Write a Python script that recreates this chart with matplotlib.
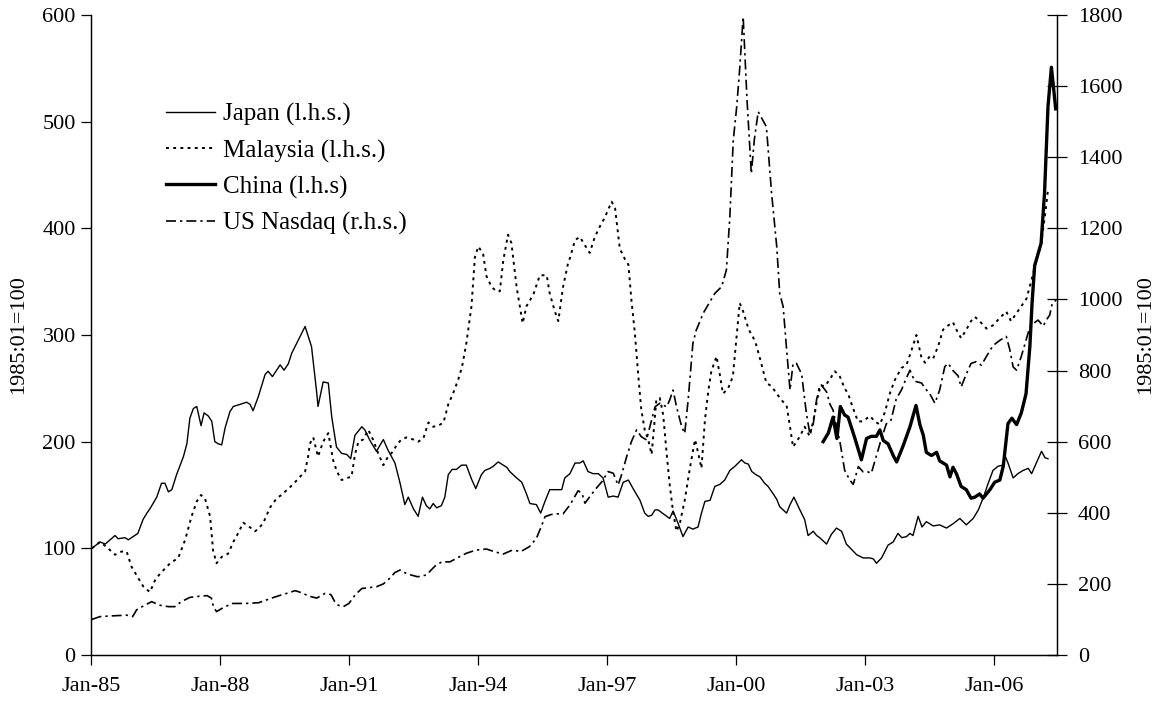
import matplotlib
matplotlib.use("Agg")
import matplotlib.pyplot as plt

# ---------------- data (decimal year, index 1985:01=100) ----------------
japan_t = [1985.02,1985.21,1985.33,1985.56,1985.63,1985.79,1985.87,1985.98,1986.09,1986.21,1986.30,1986.37,1986.53,1986.64,1986.72,1986.80,1986.88,1986.99,
           1987.15,1987.23,1987.30,1987.38,1987.46,1987.56,1987.63,1987.73,1987.81,1987.88,1987.96,1988.04,1988.12,1988.23,1988.31,1988.47,1988.62,1988.70,
           1988.77,1988.89,1989.05,1989.12,1989.22,1989.40,1989.49,1989.59,1989.67,1989.82,1989.98,1990.13,1990.25,1990.28,1990.40,1990.52,1990.60,1990.71,
           1990.83,1990.95,1991.04,1991.14,1991.30,1991.37,1991.49,1991.64,1991.80,1991.91,1992.07,1992.19,1992.30,1992.38,1992.50,1992.61,1992.71,1992.80,
           1992.88,1992.96,1993.04,1993.15,1993.23,1993.31,1993.40,1993.50,1993.62,1993.73,1993.85,1993.95,1994.08,1994.16,1994.28,1994.36,1994.47,1994.59,
           1994.67,1994.74,1994.82,1994.90,1995.02,1995.13,1995.21,1995.36,1995.46,1995.56,1995.67,1995.87,1995.95,1996.02,1996.14,1996.26,1996.37,1996.45,
           1996.56,1996.68,1996.80,1996.91,1997.03,1997.15,1997.26,1997.38,1997.50,1997.61,1997.77,1997.88,1997.96,1998.04,1998.12,1998.19,1998.29,1998.39,
           1998.46,1998.54,1998.66,1998.77,1998.89,1999.00,1999.12,1999.20,1999.28,1999.40,1999.51,1999.63,1999.74,1999.86,1999.98,2000.13,2000.21,2000.29,
           2000.37,2000.47,2000.56,2000.67,2000.75,2000.87,2000.95,2001.02,2001.18,2001.26,2001.35,2001.49,2001.60,2001.68,2001.80,2001.88,2001.95,2002.11,
           2002.22,2002.34,2002.46,2002.57,2002.69,2002.81,2002.96,2003.12,2003.20,2003.27,2003.39,2003.54,2003.66,2003.77,2003.86,2003.97,2004.05,2004.12,
           2004.24,2004.33,2004.43,2004.59,2004.74,2004.90,2005.05,2005.21,2005.36,2005.52,2005.64,2005.75,2005.87,2005.98,2006.10,2006.22,2006.26,2006.33,
           2006.45,2006.56,2006.68,2006.80,2006.88,2006.99,2007.11,2007.19,2007.26]
japan_v = [100,106,104,112,109,110,108,111,114,127,133,137,148,161,161,153,155,169,
           186,198,222,231,233,215,227,224,219,200,198,197,213,228,233,235,237,235,
           229,242,263,266,261,272,267,273,283,295,308,289,246,233,256,255,223,195,
           189,188,184,206,214,211,201,191,202,192,180,161,141,148,137,130,148,140,
           137,142,138,140,148,169,174,174,178,178,165,156,169,173,175,177,181,178,
           176,172,169,166,162,151,142,141,133,144,155,155,155,166,170,180,180,182,
           172,170,170,166,148,149,148,162,164,156,145,133,130,131,136,136,133,130,
           128,135,123,111,120,118,120,133,144,145,158,160,164,173,177,183,180,179,
           172,169,167,161,158,151,146,139,133,141,148,136,127,112,116,112,110,104,
           113,119,116,104,99,94,91,91,90,86,91,103,106,114,110,111,114,112,
           130,120,125,121,122,119,123,128,122,128,136,147,161,173,177,178,187,180,
           166,170,173,175,170,180,191,185,184]

malaysia_t = [1985.02,1985.21,1985.37,1985.56,1985.71,1985.83,1985.94,1986.10,1986.22,1986.37,1986.49,1986.60,1986.72,1986.84,1987.03,1987.19,1987.34,
              1987.46,1987.56,1987.65,1987.77,1987.84,1987.92,1988.04,1988.19,1988.31,1988.42,1988.54,1988.66,1988.81,1988.89,1989.01,1989.16,1989.32,
              1989.43,1989.59,1989.70,1989.86,1989.98,1990.05,1990.09,1990.17,1990.28,1990.40,1990.52,1990.63,1990.72,1990.83,1990.95,1991.06,1991.14,
              1991.22,1991.33,1991.45,1991.56,1991.68,1991.80,1991.91,1992.03,1992.11,1992.22,1992.34,1992.50,1992.61,1992.73,1992.85,1992.96,1993.08,
              1993.20,1993.31,1993.42,1993.54,1993.63,1993.73,1993.85,1993.93,1994.01,1994.12,1994.20,1994.32,1994.43,1994.51,1994.59,1994.70,1994.78,
              1994.90,1995.04,1995.13,1995.29,1995.44,1995.60,1995.67,1995.79,1995.87,1995.98,1996.10,1996.14,1996.26,1996.37,1996.49,1996.60,1996.72,
              1996.84,1996.95,1997.11,1997.19,1997.26,1997.30,1997.42,1997.50,1997.57,1997.65,1997.73,1997.80,1997.88,1997.96,1998.04,1998.10,1998.15,
              1998.23,1998.31,1998.39,1998.46,1998.54,1998.62,1998.70,1998.81,1998.93,1999.05,1999.12,1999.20,1999.28,1999.36,1999.43,1999.55,1999.63,
              1999.70,1999.82,1999.93,2000.01,2000.09,2000.17,2000.30,2000.40,2000.48,2000.60,2000.71,2000.83,2000.95,2001.06,2001.18,2001.26,2001.33,
              2001.49,2001.60,2001.72,2001.83,2001.95,2002.07,2002.18,2002.30,2002.41,2002.53,2002.61,2002.72,2002.84,2002.95,2003.12,2003.23,2003.35,
              2003.47,2003.58,2003.70,2003.85,2003.97,2004.08,2004.20,2004.31,2004.40,2004.51,2004.59,2004.71,2004.82,2004.94,2005.05,2005.13,2005.24,
              2005.36,2005.47,2005.56,2005.67,2005.83,2005.98,2006.14,2006.29,2006.40,2006.52,2006.64,2006.76,2006.88,2006.99,2007.10,2007.20,2007.26]
malaysia_v = [100,106,101,94,97,97,83,72,64,59,70,76,81,86,91,108,130,
              144,150,147,130,98,86,92,95,106,114,124,121,116,118,124,138,147,
              150,156,160,167,172,186,198,204,186,200,208,183,172,164,166,167,188,
              200,202,211,202,189,178,186,191,197,202,204,202,200,203,218,214,215,
              218,235,245,258,270,292,327,373,383,376,355,345,341,341,370,394,386,
              345,311,327,338,356,356,339,322,313,345,368,372,389,392,384,377,392,
              402,410,425,419,395,381,371,366,333,302,262,230,211,202,188,215,239,
              241,225,189,160,134,116,124,145,175,202,190,175,220,248,266,280,262,
              245,250,261,295,330,322,305,298,290,272,255,252,245,239,234,214,195,
              205,214,205,225,253,252,258,266,262,250,245,232,219,219,224,219,216,
              228,245,258,269,272,285,300,280,274,280,278,290,305,309,312,305,297,
              305,313,317,313,306,309,316,322,313,320,327,334,352,370,385,415,436]

china_t = [2002.03,2002.15,2002.26,2002.35,2002.43,2002.53,2002.61,2002.77,2002.92,2003.04,2003.15,2003.27,2003.35,2003.43,2003.54,2003.66,2003.74,
           2003.89,2004.05,2004.19,2004.28,2004.36,2004.43,2004.55,2004.67,2004.74,2004.90,2004.98,2005.05,2005.13,2005.24,2005.36,2005.47,2005.56,
           2005.67,2005.75,2005.91,2006.02,2006.14,2006.22,2006.33,2006.42,2006.53,2006.64,2006.75,2006.84,2006.89,2006.95,2007.10,2007.18,2007.26,
           2007.34,2007.44]
china_v = [200,208,223,203,233,225,223,203,183,203,205,205,211,201,198,187,181,
           196,214,234,216,206,190,187,190,182,178,167,176,170,158,155,147,148,
           151,147,155,162,164,177,217,222,216,227,245,290,330,365,386,433,514,
           551,512]

nasdaq_t = [1985.02,1985.21,1985.48,1985.83,1985.97,1986.06,1986.25,1986.41,1986.60,1986.80,1986.95,1987.10,1987.30,1987.50,1987.70,1987.80,1987.85,
            1987.92,1988.10,1988.30,1988.60,1988.90,1989.20,1989.43,1989.60,1989.75,1989.90,1990.06,1990.25,1990.44,1990.58,1990.67,1990.75,1990.87,
            1991.00,1991.15,1991.30,1991.50,1991.64,1991.80,1991.91,1992.07,1992.19,1992.35,1992.60,1992.80,1993.00,1993.16,1993.35,1993.55,1993.73,
            1993.95,1994.20,1994.40,1994.59,1994.80,1995.00,1995.20,1995.36,1995.47,1995.56,1995.70,1995.85,1995.98,1996.14,1996.33,1996.42,1996.49,
            1996.60,1996.72,1996.88,1997.03,1997.15,1997.26,1997.34,1997.46,1997.57,1997.69,1997.80,1997.92,1998.00,1998.12,1998.23,1998.39,1998.46,
            1998.54,1998.62,1998.74,1998.81,1998.89,1999.00,1999.08,1999.24,1999.51,1999.67,1999.78,1999.86,1999.94,2000.02,2000.09,2000.17,2000.26,
            2000.36,2000.43,2000.52,2000.60,2000.71,2000.83,2000.95,2001.02,2001.10,2001.18,2001.26,2001.33,2001.41,2001.53,2001.64,2001.72,2001.80,
            2001.88,2001.99,2002.11,2002.19,2002.26,2002.42,2002.53,2002.65,2002.73,2002.85,2002.96,2003.07,2003.15,2003.27,2003.39,2003.50,2003.61,
            2003.73,2003.85,2003.97,2004.05,2004.16,2004.32,2004.40,2004.51,2004.63,2004.74,2004.86,2004.94,2005.05,2005.17,2005.24,2005.36,2005.47,
            2005.59,2005.71,2005.83,2005.98,2006.14,2006.29,2006.37,2006.45,2006.53,2006.64,2006.76,2006.84,2006.95,2007.03,2007.15,2007.22,2007.30,
            2007.36,2007.45]
nasdaq_v = [100,108,110,112,108,127,140,150,140,136,136,150,162,165,167,160,135,
            122,135,145,145,147,160,169,175,181,175,166,160,173,170,150,140,136,
            145,170,187,190,192,200,211,232,239,228,220,225,250,262,262,275,286,
            295,298,290,284,295,291,305,328,360,389,395,397,397,422,462,455,427,
            445,464,487,516,511,478,506,558,600,633,614,605,642,698,708,698,717,
            745,698,642,623,717,876,914,961,1017,1036,1083,1233,1448,1542,1650,1795,1560,
            1354,1450,1528,1510,1486,1300,1150,1017,980,860,745,820,820,790,680,623,650,
            720,759,740,705,689,600,520,492,480,530,515,515,511,560,610,650,661,
            720,745,780,801,770,765,750,735,708,745,811,820,800,785,754,790,820,
            825,815,840,870,885,896,860,810,801,840,890,923,935,942,925,942,956,
            989,998]

labels = ["Japan (l.h.s.)", "Malaysia (l.h.s.)", "China (l.h.s)", "US Nasdaq (r.h.s.)"]
tick_years = [1985, 1988, 1991, 1994, 1997, 2000, 2003, 2006]
tick_labels = ["Jan-85", "Jan-88", "Jan-91", "Jan-94", "Jan-97", "Jan-00", "Jan-03", "Jan-06"]
left_ticks = [0, 100, 200, 300, 400, 500, 600]
right_ticks = [0, 200, 400, 600, 800, 1000, 1200, 1400, 1600, 1800]
ylabel = "1985:01=100"

# ---------------- figure ----------------
plt.rcParams["font.family"] = ["Liberation Serif", "DejaVu Serif"]
W, H = 1155, 703
fig = plt.figure(figsize=(W / 100, H / 100), dpi=100)
ax = fig.add_axes([91 / W, 1 - 655 / H, (1057 - 91) / W, (655 - 15) / H])
ax2 = ax.twinx()

dot = (0, (1.5, 2.2))
dashdot = (0, (6.0, 2.4, 1.4, 2.4))

l1, = ax.plot(japan_t, japan_v, color="black", lw=1.0, solid_joinstyle="round")
l2, = ax.plot(malaysia_t, malaysia_v, color="black", lw=1.4, linestyle=dot)
l3, = ax.plot(china_t, china_v, color="black", lw=2.4, solid_joinstyle="round")
l4, = ax2.plot(nasdaq_t, nasdaq_v, color="black", lw=1.2, linestyle=dashdot)

ax.set_xlim(1985.0, 2007.47)
ax.set_ylim(0, 600)
ax2.set_ylim(0, 1800)
ax.set_xticks(tick_years)
ax.set_xticklabels(tick_labels)
ax.set_yticks(left_ticks)
ax2.set_yticks(right_ticks)

for a in (ax, ax2):
    a.spines["top"].set_visible(False)
    for s in a.spines.values():
        s.set_linewidth(0.9)
ax.tick_params(axis="y", direction="out", length=7, width=0.9, labelsize=16, pad=4)
ax.tick_params(axis="x", direction="out", length=7, width=0.9, labelsize=16, pad=9)
ax2.tick_params(axis="y", direction="inout", length=14, width=0.9, labelsize=16, pad=8)

ax.set_ylabel(ylabel, fontsize=16, labelpad=10)
ax2.set_ylabel(ylabel, fontsize=16, rotation=90, labelpad=10)

ax2.legend([l1, l2, l3, l4], labels, loc="upper left", bbox_to_anchor=(0.078, 0.862),
           frameon=False, fontsize=18, handlelength=1.96, handletextpad=0.32,
           labelspacing=0.52, borderpad=0, borderaxespad=0)

fig.savefig("out.png", dpi=100)
